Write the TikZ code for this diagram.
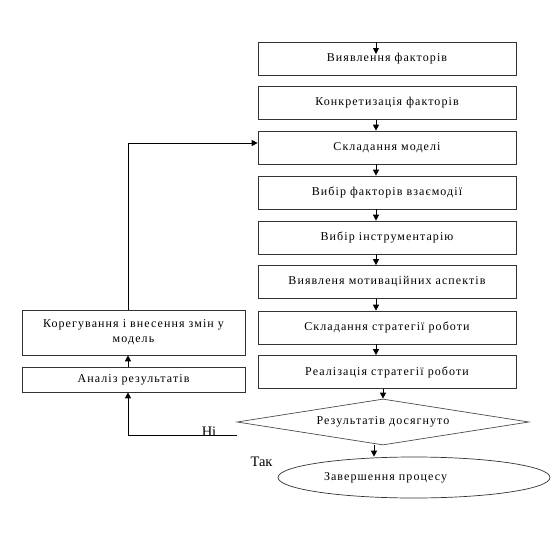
\documentclass[tikz,border=0pt]{standalone}
\usepackage{fontspec}
\setmainfont{Liberation Serif}
\newfontfamily\boxfont[LetterSpace=9]{Liberation Serif}
\usetikzlibrary{shapes, arrows.meta, positioning, calc}

\begin{document}
\begin{tikzpicture}[x=1pt, y=-1pt,
  sbox/.style={draw=black!80, line width=0.7pt, minimum width=258pt,
               minimum height=33pt, font=\boxfont\fontsize{12}{13}\selectfont},
  lbox/.style={draw=black!80, line width=0.7pt, minimum width=223pt,
               align=center, font=\boxfont\fontsize{12}{15}\selectfont},
  dbox/.style={diamond, aspect=6.35, draw=black!70, line width=0.7pt,
               minimum width=292pt, minimum height=46pt, inner sep=0pt,
               font=\boxfont\fontsize{12}{13}\selectfont},
  ebox/.style={ellipse, draw=black!80, line width=0.7pt, minimum width=272pt,
               minimum height=41pt, inner sep=0pt,
               font=\boxfont\fontsize{12}{13}\selectfont},
  arr/.style={-{Triangle[length=6pt, width=6pt]}, line width=1pt},
  lab/.style={font=\fontsize{14.5}{16}\selectfont, inner sep=0pt}
]
  \useasboundingbox (0,0) rectangle (558,533);

  \node[sbox] (b1) at (387, 58.5) {Виявлення факторів};
  \node[sbox] (b2) at (387, 103) {Конкретизація факторів};
  \node[sbox] (b3) at (387, 147.5) {Складання моделі};
  \node[sbox] (b4) at (387, 192.5) {Вибір факторів взаємодії};
  \node[sbox] (b5) at (387, 237.5) {Вибір інструментарію};
  \node[sbox] (b6) at (387, 282) {Виявленя мотиваційних аспектів};
  \node[sbox] (b7) at (387, 327.5) {Складання стратегії роботи};
  \node[sbox] (b8) at (387, 372) {Реалізація стратегії роботи};

  \node[dbox] (dec) at (383, 422) {Результатів досягнуто};
  % text sits left of the ellipse centre
  \node[ebox] (fin) at (414, 477.5) {\makebox[180pt][l]{Завершення процесу}};

  \node[lbox, minimum height=45pt] (kor) at (133.5, 332.5)
    {Корегування і внесення змін у\\модель};
  \node[lbox, minimum height=25pt] (ana) at (133.5, 379.5) {Аналіз результатів};

  \node[lab] (ni) at (209, 432) {Ні};
  \node[lab] (tak) at (261.5, 462) {Так};

  \coordinate (in1) at (376, 42);
  \coordinate (in2) at (376, 54);
  \coordinate (no) at (237, 435);

  \draw[arr] (in1) -- (in2);
  \foreach \a/\b in {b2/b3, b3/b4, b4/b5, b5/b6, b6/b7, b7/b8}
    \draw[arr] ([xshift=-11pt]\a.south) -- ([xshift=-11pt]\b.north);
  \draw[arr] ([xshift=-4pt]b8.south) -- (dec.north);
  \draw[arr] ([xshift=-9pt]dec.south) -- ([xshift=-9pt]dec.south |- fin.north);

  \draw[arr] (no) -| ([xshift=-5.5pt]ana.south);
  \draw[arr] ([xshift=-5.5pt]ana.north) -- ([xshift=-5.5pt]kor.south);
  \draw[arr] ([xshift=-5.5pt]kor.north) |- ([yshift=4.5pt]b3.west);
\end{tikzpicture}
\end{document}
